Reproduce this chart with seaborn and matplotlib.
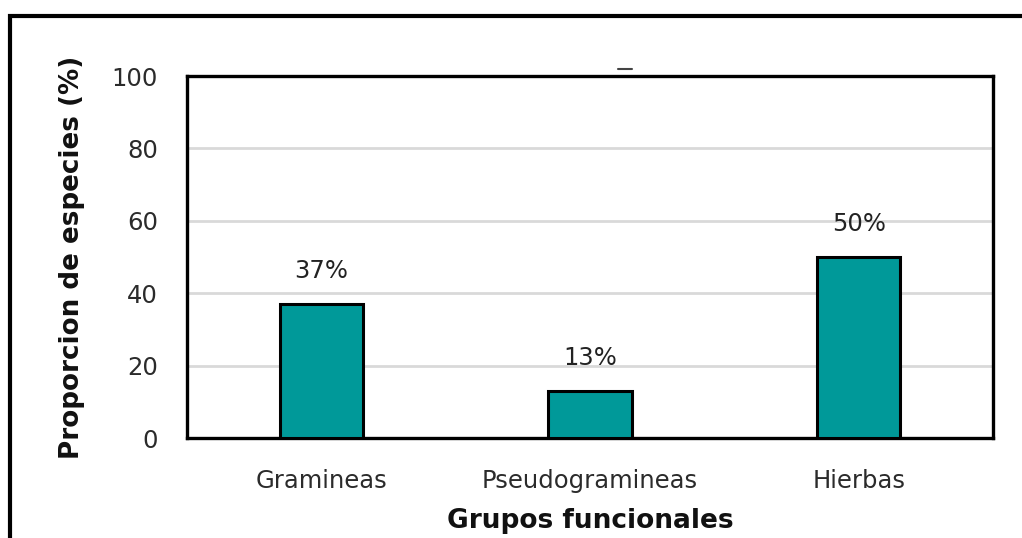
import matplotlib
matplotlib.use("Agg")
import matplotlib.pyplot as plt
from matplotlib.lines import Line2D
from matplotlib.patches import Rectangle
import seaborn as sns
import pandas as pd

# Functional groups and the share of species in each (%)
groups = ["Gramineas", "Pseudogramineas", "Hierbas"]
proportion = [37, 13, 50]
y_ticks = [0, 20, 40, 60, 80, 100]

df = pd.DataFrame({"grupo": groups, "proporcion": proportion})

sns.set_theme(style="white")
plt.rcParams["font.family"] = ["DejaVu Sans"]

W, H = 1022, 538
fig = plt.figure(figsize=(W / 100, H / 100), dpi=100)
ax = fig.add_axes([187 / W, 1 - 438 / H, (993 - 187) / W, (438 - 76) / H])

sns.barplot(data=df, x="grupo", y="proporcion", color="#009999",
            saturation=1, width=0.31, edgecolor="black", linewidth=2.2,
            ax=ax, zorder=3)

ax.set_ylim(0, 100)
ax.set_yticks(y_ticks)
ax.set_xlim(-0.5, len(groups) - 0.5)
ax.yaxis.grid(True, color="#d9d9d9", linewidth=2, zorder=0)
ax.set_axisbelow(True)
for s in ax.spines.values():
    s.set_visible(True)
    s.set_color("black")
    s.set_linewidth(2.4)

ax.tick_params(axis="both", length=0, labelsize=17.5, labelcolor="#2b2b2b")
ax.tick_params(axis="y", pad=21)
ax.tick_params(axis="x", pad=22)

ax.set_xlabel("Grupos funcionales", fontsize=19, fontweight="bold",
              color="#111111", labelpad=11)
ax.set_ylabel("Proporcion de especies (%)", fontsize=18.8, fontweight="bold",
              color="#111111", labelpad=19)

# Value labels above each bar
for i, v in enumerate(proportion):
    ax.annotate(f"{v}%", xy=(i, v), xytext=(0, 24), textcoords="offset points",
                ha="center", va="center", fontsize=17.5, color="#222222")

# Frame around the whole figure (runs off the right and bottom edges)
fig.add_artist(Rectangle((10 / W, -0.05), 1.1, (1 - 15.5 / H) + 0.05,
                         transform=fig.transFigure, fill=False,
                         edgecolor="black", linewidth=3))

# Small stroke above the plot area
fig.add_artist(Line2D([618 / W, 632 / W], [1 - 69 / H, 1 - 69 / H],
                      transform=fig.transFigure, color="#444444", linewidth=1.5))

fig.savefig("out.png", dpi=100)
